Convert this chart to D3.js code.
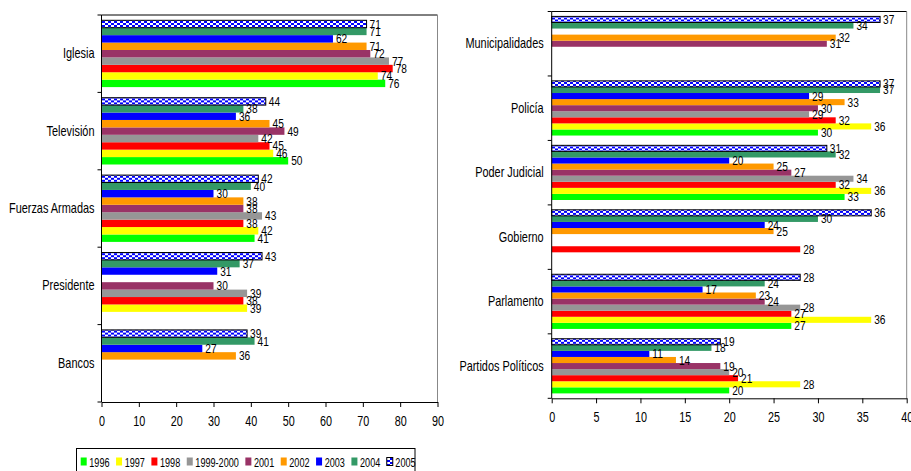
<!DOCTYPE html>
<html>
<head>
<meta charset="utf-8">
<script src="https://cdn.jsdelivr.net/npm/d3@7/dist/d3.min.js"></script>
<style>
  html, body { margin: 0; padding: 0; background: #fff; }
  svg { display: block; }
  text { font-family: "Liberation Sans", Arial, sans-serif; fill: #000; }
</style>
</head>
<body>
<svg id="chart" width="911" height="471"></svg>
<script>
// ---------- DATA ----------
const series = ["1996", "1997", "1998", "1999-2000", "2001", "2002", "2003", "2004", "2005"];
const seriesColors = ["#00FF00", "#FFFF00", "#FF0000", "#969696", "#993366", "#FF9900", "#0000FF", "#339966", "pattern"];

// Left panel (values in series order 1996 ... 2005; null = no bar)
const leftCategories = ["Iglesia", "Televisión", "Fuerzas Armadas", "Presidente", "Bancos"];
const iglesia        = [76, 74, 78, 77, 72, 71, 62, 71, 71];
const television     = [50, 46, 45, 42, 49, 45, 36, 38, 44];
const fuerzasArmadas = [41, 42, 38, 43, 38, 38, 30, 40, 42];
const presidente     = [null, 39, 38, 39, 30, null, 31, 37, 43];
const bancos         = [null, null, null, null, null, 36, 27, 41, 39];
const leftTicks = [0, 10, 20, 30, 40, 50, 60, 70, 80, 90];

// Right panel
const rightCategories = ["Municipalidades", "Policía", "Poder Judicial", "Gobierno", "Parlamento", "Partidos Políticos"];
const municipalidades   = [null, null, null, null, 31, 32, null, 34, 37];
const policia           = [30, 36, 32, 29, 30, 33, 29, 37, 37];
const poderJudicial     = [33, 36, 32, 34, 27, 25, 20, 32, 31];
const gobierno          = [null, null, 28, null, null, 25, 24, 30, 36];
const parlamento        = [27, 36, 27, 28, 24, 23, 17, 24, 28];
const partidosPoliticos = [20, 28, 21, 20, 19, 14, 11, 18, 19];
const rightTicks = [0, 5, 10, 15, 20, 25, 30, 35, 40];

// ---------- DRAW ----------
const svg = d3.select("#chart");
svg.append("rect").attr("width", 911).attr("height", 471).attr("fill", "#fff");

const defs = svg.append("defs");
const pat = defs.append("pattern").attr("id", "p2005").attr("patternUnits", "userSpaceOnUse")
  .attr("width", 6).attr("height", 4);
pat.append("rect").attr("width", 6).attr("height", 4).attr("fill", "#0000FF");
pat.append("rect").attr("x", 0).attr("y", 0).attr("width", 3).attr("height", 2).attr("fill", "#fff");
pat.append("rect").attr("x", 3).attr("y", 2).attr("width", 3).attr("height", 2).attr("fill", "#fff");

function fillFor(i) { return seriesColors[i] === "pattern" ? "url(#p2005)" : seriesColors[i]; }

function addText(parent, x, y, txt, size, anchor, sx) {
  return parent.append("text")
    .attr("transform", `translate(${x},${y}) scale(${sx},1)`)
    .attr("text-anchor", anchor || "start")
    .attr("dominant-baseline", "central")
    .attr("font-size", size)
    .text(txt);
}

function drawPanel(cfg) {
  const x = d3.scaleLinear().domain(cfg.domain).range(cfg.xRange);
  const y = d3.scaleBand().domain(cfg.categories).range(cfg.yRange);
  const y1 = d3.scaleBand().domain(series.slice().reverse())
    .range([cfg.pad, y.bandwidth() - cfg.pad]);
  const g = svg.append("g");

  // frame top & right
  g.append("line").attr("x1", x.range()[0]).attr("x2", x.range()[1])
    .attr("y1", cfg.yRange[0]).attr("y2", cfg.yRange[0]).attr("stroke", "#000");
  g.append("line").attr("x1", x.range()[1]).attr("x2", x.range()[1])
    .attr("y1", cfg.yRange[0]).attr("y2", cfg.yRange[1]).attr("stroke", "#888");

  cfg.categories.forEach((cat, ci) => {
    const vals = cfg.rows[ci];
    const grp = g.append("g").attr("transform", `translate(0,${y(cat)})`);
    const items = series.map((s, i) => ({ s, i, v: vals[i] })).filter(d => d.v != null);
    grp.selectAll("rect.bar").data(items).join("rect").attr("class", "bar")
      .attr("x", x(0)).attr("y", d => y1(d.s))
      .attr("width", d => x(d.v) - x(0)).attr("height", y1.bandwidth())
      .attr("fill", d => fillFor(d.i))
      .attr("stroke", d => seriesColors[d.i] === "pattern" ? "#000" : "none")
      .attr("stroke-width", 1);
    items.forEach(d => addText(grp, x(d.v) + 3, y1(d.s) + y1.bandwidth() / 2 - 0.5, d.v, 13, "start", 0.78));
    addText(g, x(0) - cfg.labelGap, y(cat) + y.bandwidth() / 2, cat, 14, "end", 0.78);
  });

  // y axis line & category ticks
  g.append("line").attr("x1", x(0)).attr("x2", x(0))
    .attr("y1", cfg.yRange[0]).attr("y2", cfg.yRange[1]).attr("stroke", "#000");
  const bounds = cfg.categories.map(c => y(c)).concat([y.range()[1]]);
  g.selectAll("line.yt").data(bounds).join("line").attr("class", "yt")
    .attr("x1", x(0) - 4).attr("x2", x(0)).attr("y1", d => d).attr("y2", d => d)
    .attr("stroke", "#000");

  // x axis
  const ax = g.append("g").attr("transform", `translate(0,${cfg.yRange[1]})`)
    .call(d3.axisBottom(x).tickValues(cfg.ticks).tickSize(5).tickSizeOuter(0).tickPadding(8));
  ax.select(".domain").attr("stroke", "#000");
  ax.selectAll(".tick line").attr("stroke", "#000");
  ax.selectAll(".tick text").attr("font-size", 15).attr("font-family", null).attr("fill", "#000")
    .attr("transform", "scale(0.72,1)");
}

drawPanel({
  categories: leftCategories,
  rows: [iglesia, television, fuerzasArmadas, presidente, bancos],
  domain: [0, 90], xRange: [101.5, 437.5], yRange: [15, 402],
  ticks: leftTicks, pad: 5.3, labelGap: 7
});
drawPanel({
  categories: rightCategories,
  rows: [municipalidades, policia, poderJudicial, gobierno, parlamento, partidosPoliticos],
  domain: [0, 40], xRange: [551.7, 906.7], yRange: [11.5, 398.3],
  ticks: rightTicks, pad: 4.9, labelGap: 8
});

// legend
const leg = svg.append("g");
leg.append("rect").attr("x", 76.5).attr("y", 448.5).attr("width", 338.5).attr("height", 30)
  .attr("fill", "#fff").attr("stroke", "#000");
let lx = 80.7;
const LSX = 0.7;
series.forEach((s, i) => {
  leg.append("rect").attr("x", lx).attr("y", 457.5).attr("width", 6).attr("height", 8)
    .attr("fill", fillFor(i)).attr("stroke", seriesColors[i] === "pattern" ? "#000" : "none");
  const t = addText(leg, lx + 8.6, 462, s, 13, "start", LSX);
  lx = lx + 8.6 + t.node().getComputedTextLength() * LSX + 6.5;
});
</script>
</body>
</html>
